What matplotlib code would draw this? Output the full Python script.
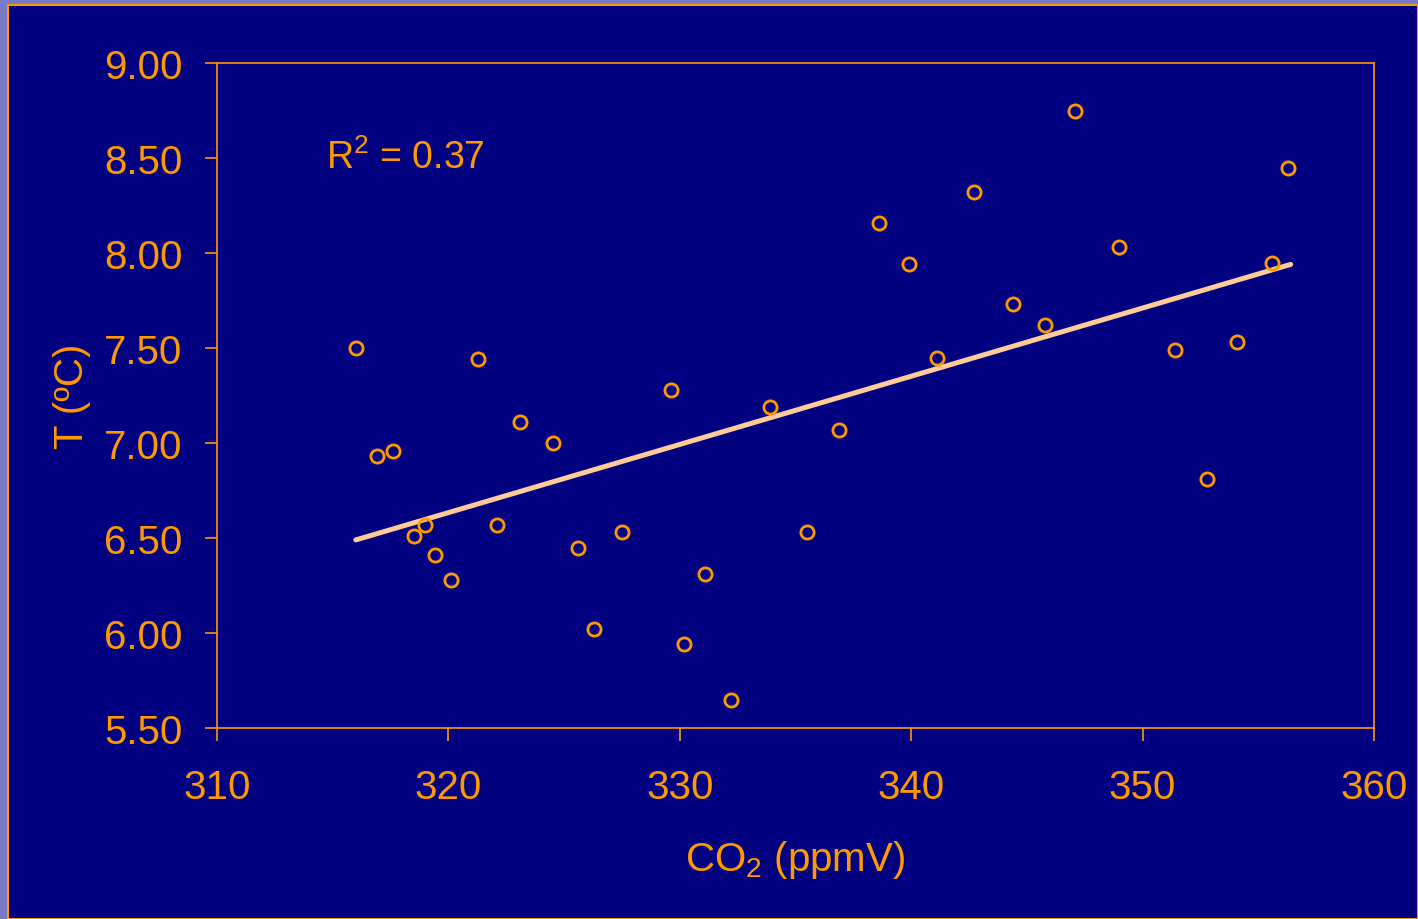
import matplotlib
matplotlib.use('Agg')
import matplotlib.pyplot as plt
from matplotlib.patches import Rectangle

# CO2 (ppmV) vs mean temperature (ºC)
co2 = [316.0, 316.9, 317.6, 318.5, 319.0, 319.4, 320.1, 321.3, 322.1, 323.1,
       324.5, 325.6, 326.3, 327.5, 329.6, 330.2, 331.1, 332.2, 333.9, 335.5,
       336.9, 338.6, 339.9, 341.1, 342.7, 344.4, 345.8, 347.1, 349.0, 351.4,
       352.8, 354.1, 355.6, 356.3]
temp = [7.50, 6.93, 6.96, 6.51, 6.57, 6.41, 6.28, 7.44, 6.57, 7.11,
        7.00, 6.45, 6.02, 6.53, 7.28, 5.94, 6.31, 5.65, 7.19, 6.53,
        7.07, 8.16, 7.94, 7.45, 8.32, 7.73, 7.62, 8.75, 8.03, 7.49,
        6.81, 7.53, 7.95, 8.45]

# linear trend (end points)
trend_x = [316.0, 356.4]
trend_y = [6.49, 7.94]

xticks = [310, 320, 330, 340, 350, 360]
yticks = [5.50, 6.00, 6.50, 7.00, 7.50, 8.00, 8.50, 9.00]

orange = '#ff9900'
navy = '#000080'

plt.rcParams['font.family'] = 'Liberation Sans'
plt.rcParams['mathtext.fontset'] = 'custom'
plt.rcParams['mathtext.rm'] = 'Liberation Sans'
plt.rcParams['mathtext.it'] = 'Liberation Sans'

fig = plt.figure(figsize=(14.18, 9.2), dpi=100, facecolor='#7a7acc')
bg = Rectangle((8 / 1418, 0), 1 - 8 / 1418, 1 - 6 / 920,
               transform=fig.transFigure, facecolor=navy,
               edgecolor=orange, linewidth=1.5, zorder=-5)
fig.add_artist(bg)

ax = fig.add_axes([217 / 1418, 1 - 729 / 920, 1157 / 1418, 665 / 920])
ax.set_facecolor(navy)
ax.set_zorder(1)

ax.plot(trend_x, trend_y, color='#ffcc99', linewidth=3.6, solid_capstyle='round', zorder=2)
ax.plot(co2, temp, 'o', markerfacecolor='none', markeredgecolor=orange,
        markersize=9.5, markeredgewidth=2.0, zorder=3)

ax.set_xlim(310, 360)
ax.set_ylim(5.5, 9.0)
ax.set_xticks(xticks)
ax.set_yticks(yticks)
ax.set_yticklabels(['%.2f' % v for v in yticks])

for s in ax.spines.values():
    s.set_color(orange)
    s.set_linewidth(1.2)
ax.tick_params(axis='both', colors=orange, labelsize=29, length=9, width=1.2,
               direction='out')
ax.tick_params(axis='y', pad=16)
ax.tick_params(axis='x', pad=20)

ax.set_xlabel(r'CO$_2$ (ppmV)', color=orange, fontsize=29, labelpad=23)
ax.set_ylabel('T (ºC)', color=orange, fontsize=29, labelpad=9)

ax.text(0.094, 0.858, r'R$^2$ = 0.37', transform=ax.transAxes, color=orange,
        fontsize=27, ha='left', va='center')

fig.savefig('out.png', dpi=100, facecolor=fig.get_facecolor())
